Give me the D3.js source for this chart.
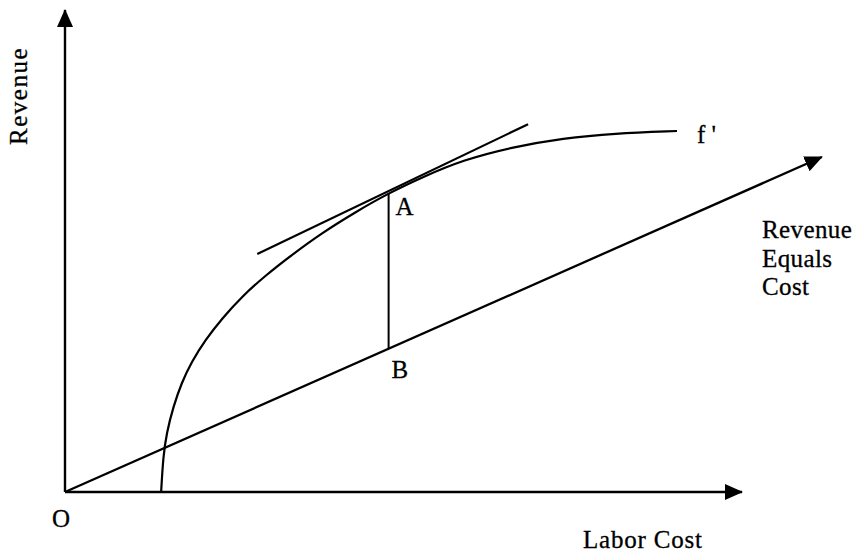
<!DOCTYPE html>
<html>
<head>
<meta charset="utf-8">
<script src="https://cdn.jsdelivr.net/npm/d3@7"></script>
<style>
  body { margin: 0; background: #fff; }
  svg text { font-family: "Liberation Serif", "Times New Roman", serif; font-size: 25px; fill: #000; stroke: #000; stroke-width: 0.3px; }
</style>
</head>
<body>
<svg id="chart"></svg>
<script>
// curve f' (labor cost, revenue)
var curveX = [14.2, 14.5, 15.0, 16.0, 17.2, 18.7, 20.7, 23.2, 26.1, 29.5, 33.5, 37.9, 42.8, 47.8, 52.9, 58.8, 66.2, 73.6, 81.0, 90.4];
var curveY = [0, 7.3, 12.2, 17.7, 22.6, 27.0, 31.5, 36.0, 40.5, 44.8, 49.2, 53.7, 58.0, 62.0, 65.4, 68.9, 71.6, 73.4, 74.4, 74.9];

// revenue equals cost line
var rayX = [0, 111.8];
var rayY = [0, 69.5];

// tangent at A
var tangentX = [28.4, 68.4];
var tangentY = [49.4, 76.3];

// point A on the curve, B below it on the ray
var pointA = [47.8, 62.0];
var pointB = [47.8, 29.7];

var axisLabels = ["Labor Cost", "Revenue"];
var rayLabel = ["Revenue", "Equals", "Cost"];
var curveLabel = "f '";
var originLabel = "O";

var width = 857;
var height = 552;

var svg = d3.select("#chart")
    .attr("width", width)
    .attr("height", height);

var x = d3.scaleLinear().domain([0, 100]).range([65, 742]);
var y = d3.scaleLinear().domain([0, 100]).range([492, 10]);

// arrowhead
svg.append("defs").append("marker")
    .attr("id", "arrow")
    .attr("viewBox", "0 0 18 16")
    .attr("refX", 17)
    .attr("refY", 8)
    .attr("markerWidth", 18)
    .attr("markerHeight", 16)
    .attr("markerUnits", "userSpaceOnUse")
    .attr("orient", "auto")
    .append("path")
    .attr("d", "M0,0 L18,8 L0,16 Z")
    .attr("fill", "#000");

function seg(x1, y1, x2, y2, arrow, w) {
    var l = svg.append("line")
        .attr("x1", x(x1)).attr("y1", y(y1))
        .attr("x2", x(x2)).attr("y2", y(y2))
        .attr("stroke", "#000")
        .attr("stroke-width", w || 2);
    if (arrow) l.attr("marker-end", "url(#arrow)");
    return l;
}

// axes
seg(0, 0, 100, 0, true, 2.4);
seg(0, 0, 0, 100, true, 2.4);

// revenue = cost
seg(rayX[0], rayY[0], rayX[1], rayY[1], true, 2.3);

// tangent
seg(tangentX[0], tangentY[0], tangentX[1], tangentY[1], false, 2.2);

// A-B
seg(pointA[0], pointA[1], pointB[0], pointB[1], false, 2);

// the curve
var pts = curveX.map(function (d, i) { return [d, curveY[i]]; });
var line = d3.line()
    .x(function (d) { return x(d[0]); })
    .y(function (d) { return y(d[1]); })
    .curve(d3.curveBasis);

svg.append("path")
    .datum(pts)
    .attr("d", line)
    .attr("fill", "none")
    .attr("stroke", "#000")
    .attr("stroke-width", 2.2);

// labels
svg.append("text")
    .attr("x", 583).attr("y", 548)
    .attr("letter-spacing", 0.8)
    .text(axisLabels[0]);

svg.append("text")
    .attr("transform", "translate(27,96) rotate(-90)")
    .attr("text-anchor", "middle")
    .attr("letter-spacing", 1.5)
    .text(axisLabels[1]);

svg.append("text")
    .attr("x", 61).attr("y", 527)
    .attr("text-anchor", "middle")
    .text(originLabel);

svg.append("text")
    .attr("x", x(pointA[0]) + 7).attr("y", y(pointA[1]) + 22)
    .text("A");

svg.append("text")
    .attr("x", x(pointB[0]) + 3).attr("y", y(pointB[1]) + 29)
    .text("B");

svg.append("text")
    .attr("x", 697).attr("y", 143)
    .attr("xml:space", "preserve")
    .style("white-space", "pre")
    .text(curveLabel);

svg.append("text")
    .selectAll("tspan")
    .data(rayLabel)
    .enter().append("tspan")
    .attr("x", 762)
    .attr("y", function (d, i) { return 238 + i * 28.5; })
    .attr("letter-spacing", 0.4)
    .text(function (d) { return d; });
</script>
</body>
</html>
